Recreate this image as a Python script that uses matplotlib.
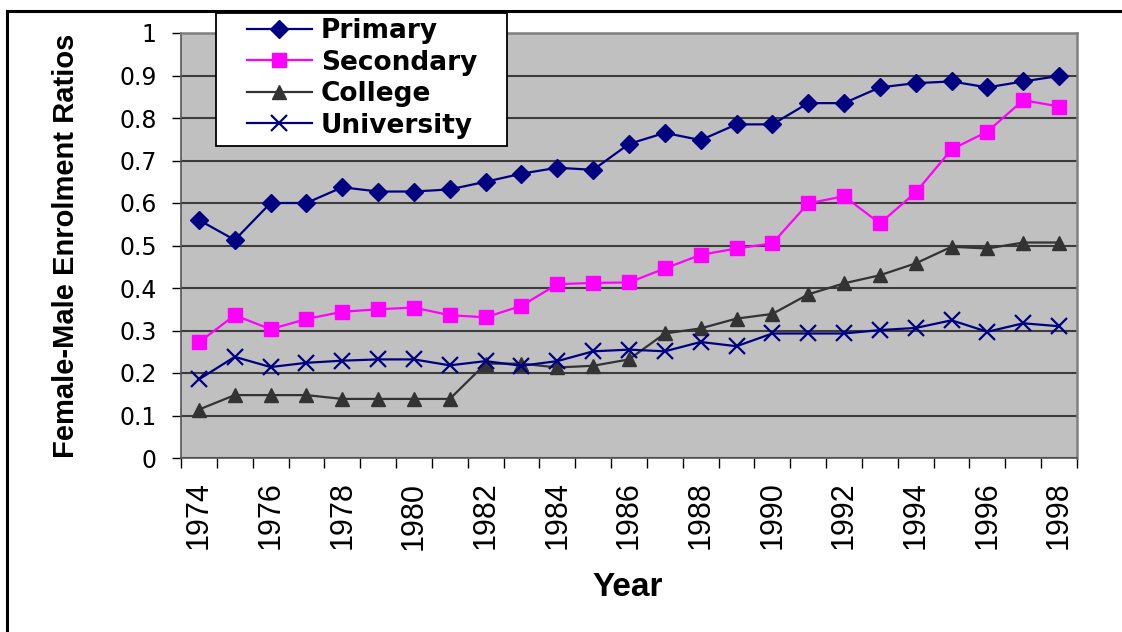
import matplotlib
matplotlib.use("Agg")
import matplotlib.pyplot as plt
from matplotlib.lines import Line2D
from matplotlib.patches import Rectangle
import numpy as np

years = list(range(1974, 1999))
primary = [0.56, 0.513, 0.60, 0.60, 0.637, 0.627, 0.627, 0.632, 0.650, 0.669,
           0.683, 0.678, 0.739, 0.765, 0.748, 0.785, 0.785, 0.835, 0.835, 0.872,
           0.882, 0.886, 0.872, 0.886, 0.899]
secondary = [0.272, 0.336, 0.303, 0.327, 0.344, 0.350, 0.354, 0.336, 0.331, 0.358,
             0.409, 0.412, 0.413, 0.446, 0.478, 0.493, 0.505, 0.599, 0.616, 0.552,
             0.625, 0.726, 0.768, 0.842, 0.827]
college = [0.114, 0.148, 0.148, 0.148, 0.139, 0.139, 0.139, 0.139, 0.222, 0.222,
           0.213, 0.217, 0.232, 0.293, 0.305, 0.328, 0.339, 0.385, 0.411, 0.430,
           0.458, 0.497, 0.493, 0.507, 0.507]
university = [0.185, 0.238, 0.214, 0.224, 0.229, 0.232, 0.232, 0.218, 0.228, 0.217,
              0.228, 0.251, 0.255, 0.251, 0.273, 0.263, 0.293, 0.293, 0.293, 0.301,
              0.306, 0.324, 0.297, 0.317, 0.310]
series_names = ["Primary", "Secondary", "College", "University"]
y_ticks = [0, 0.1, 0.2, 0.3, 0.4, 0.5, 0.6, 0.7, 0.8, 0.9, 1.0]
y_tick_labels = ["0", "0.1", "0.2", "0.3", "0.4", "0.5", "0.6", "0.7", "0.8", "0.9", "1"]
x_label = "Year"
y_label = "Female-Male Enrolment Ratios"

W, H = 1122, 632
fig = plt.figure(figsize=(W / 100, H / 100), dpi=100)
fig.patch.set_facecolor("white")

L, R, T, B = 181, 1077, 33, 458
ax = fig.add_axes([L / W, 1 - B / H, (R - L) / W, (B - T) / H])
ax.set_facecolor("#C0C0C0")

x = np.arange(len(years))
styles = [
    dict(color="#000080", marker="D", ms=9),
    dict(color="#FF00FF", marker="s", ms=9.5),
    dict(color="#333333", marker="^", ms=10.5),
    dict(color="#000080", marker="x", ms=11, mew=1.6),
]
handles = []
for vals, name, st in zip([primary, secondary, college, university], series_names, styles):
    h, = ax.plot(x, vals, lw=1.6, label=name, zorder=3, clip_on=False, **st)
    handles.append(h)

ax.set_xlim(-0.5, len(years) - 0.5)
ax.set_ylim(0, 1)
ax.set_yticks(y_ticks)
ax.set_yticklabels(y_tick_labels, fontfamily="DejaVu Sans", fontsize=17)
ax.set_xticks(x[::2])
ax.set_xticklabels([str(y) for y in years[::2]], rotation=90,
                   fontfamily="Liberation Sans", fontsize=22)
ax.set_xticks(np.arange(-0.5, len(years), 1), minor=True)
ax.tick_params(axis="x", which="major", length=0, pad=17)
ax.tick_params(axis="x", which="minor", length=7.2, width=1, direction="out", color="black")
ax.tick_params(axis="y", which="major", length=6.5, width=1, direction="out", pad=11, color="black")

ax.yaxis.grid(True, color="#3c3c3c", lw=1.5)
ax.set_axisbelow(True)
for s in ["top", "right"]:
    ax.spines[s].set_color("#808080")
    ax.spines[s].set_linewidth(1.8)
ax.spines["left"].set_color("#555555")
ax.spines["bottom"].set_color("#555555")
ax.spines["left"].set_linewidth(1.2)
ax.spines["bottom"].set_linewidth(1.2)

# axis titles
fig.text(66 / W, 1 - 246 / H, y_label, rotation=90, ha="center", va="center",
         fontfamily="Liberation Sans", fontweight="bold", fontsize=21)
fig.text(628 / W, 1 - 588 / H, x_label, ha="center", va="center",
         fontfamily="Liberation Sans", fontweight="bold", fontsize=24)

# outer frame (top and left)
fig.add_artist(Line2D([7 / W, 1.0], [1 - 11 / H, 1 - 11 / H], color="black", lw=2.2,
                      transform=fig.transFigure))
fig.add_artist(Line2D([7 / W, 7 / W], [0, 1 - 11 / H], color="black", lw=2.2,
                      transform=fig.transFigure))

# legend box
fig.add_artist(Rectangle((216 / W, 1 - 146 / H), (507 - 216) / W, (146 - 13) / H,
                         transform=fig.transFigure, facecolor="white",
                         edgecolor="black", lw=1.3, zorder=5))
leg = fig.legend(handles=handles, labels=series_names, loc="upper left",
                 bbox_to_anchor=(247 / W, 1 - 18 / H), bbox_transform=fig.transFigure,
                 frameon=False, borderpad=0, borderaxespad=0, handlelength=2.45,
                 handletextpad=0.35, labelspacing=0.21,
                 prop=dict(family="DejaVu Sans", weight="bold", size=19))
leg.set_zorder(6)

fig.savefig("out.png", dpi=100)
